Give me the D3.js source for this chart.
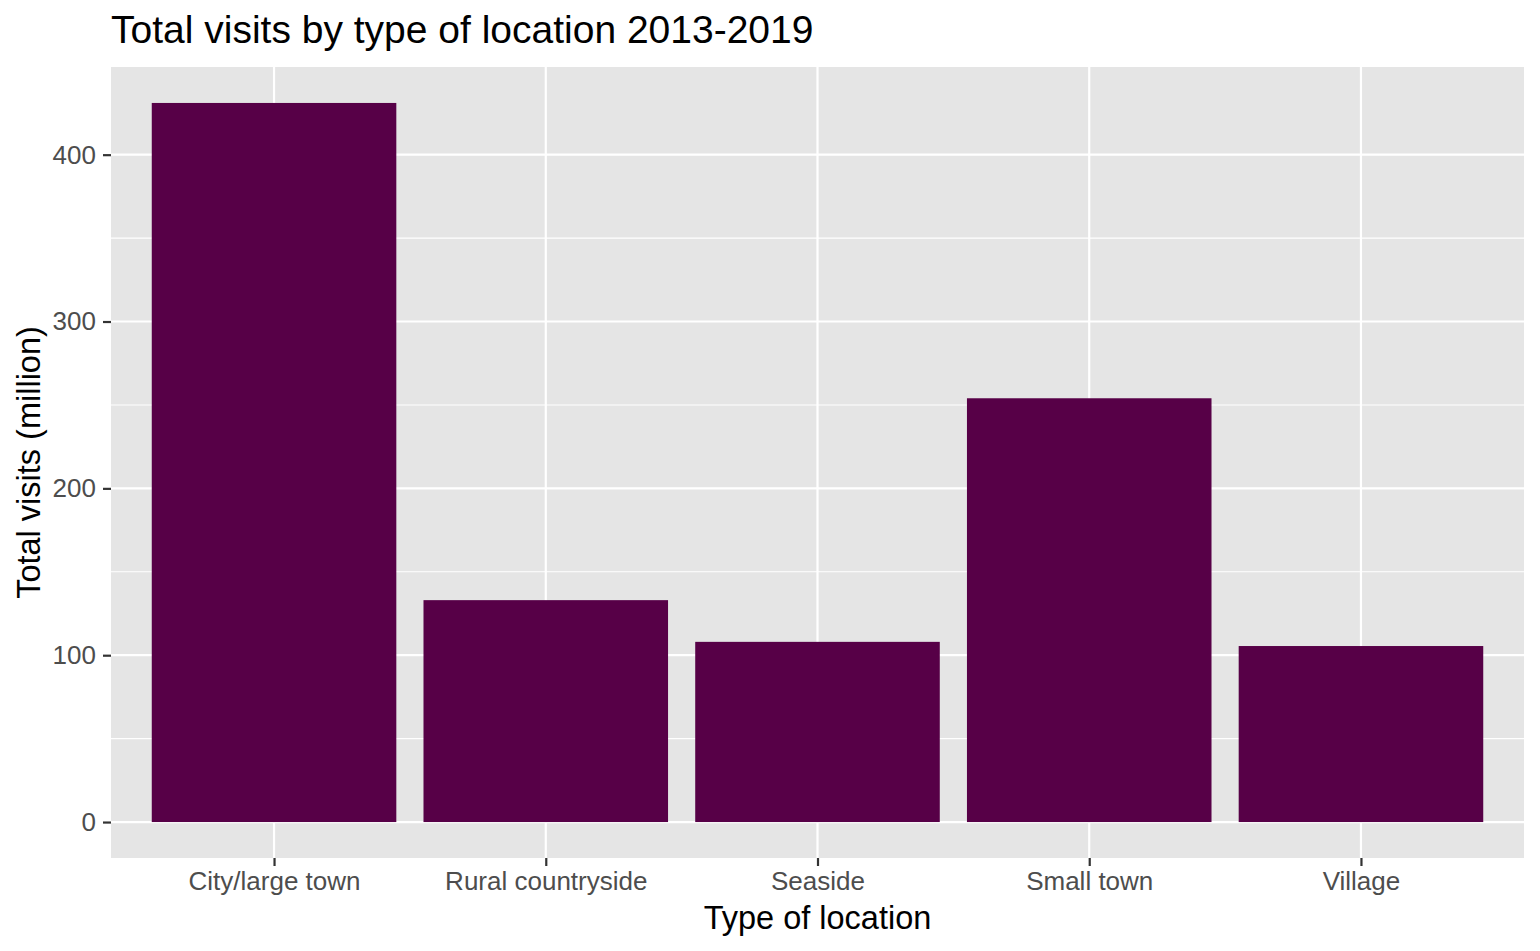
<!DOCTYPE html>
<html lang="en">
<head>
    <meta charset="UTF-8">
    <title>Total visits by type of location 2013-2019</title>
    <script src="https://cdn.jsdelivr.net/npm/d3@7/dist/d3.min.js"></script>
    <style>
        body { margin: 0; background: #fff; }
        text { font-family: "Liberation Sans", Arial, sans-serif; }
    </style>
</head>
<body>
<script>
    // data
    const categories = ['City/large town', 'Rural countryside', 'Seaside', 'Small town', 'Village'];
    const visits = [431, 133, 108, 254, 105.5];
    const yTicks = [0, 100, 200, 300, 400];
    const yMinor = [50, 150, 250, 350];

    const width = 1540;
    const height = 951;

    // panel box
    const panel = { left: 111, right: 1524, top: 67, bottom: 858 };

    const svg = d3.select('body')
        .append('svg')
        .attr('width', width)
        .attr('height', height);

    // x: discrete, ggplot style expansion 0.6 of a step each side
    const n = categories.length;
    const step = (panel.right - panel.left) / (n - 1 + 1.2);
    const xScale = d3.scalePoint()
        .domain(categories)
        .range([panel.left + 0.6 * step, panel.right - 0.6 * step]);
    const barWidth = step * 0.9;

    // y: 5% expansion
    const yMax = d3.max(visits);
    const yScale = d3.scaleLinear()
        .domain([-yMax * 0.05, yMax * 1.05])
        .range([panel.bottom, panel.top]);

    // panel background
    svg.append('rect')
        .attr('x', panel.left)
        .attr('y', panel.top)
        .attr('width', panel.right - panel.left)
        .attr('height', panel.bottom - panel.top)
        .attr('fill', '#e5e5e5');

    // minor grid
    svg.selectAll('.minor')
        .data(yMinor)
        .enter()
        .append('line')
        .attr('x1', panel.left)
        .attr('x2', panel.right)
        .attr('y1', d => yScale(d))
        .attr('y2', d => yScale(d))
        .attr('stroke', '#fff')
        .attr('stroke-width', 1.1);

    // major grid
    svg.selectAll('.hmajor')
        .data(yTicks)
        .enter()
        .append('line')
        .attr('x1', panel.left)
        .attr('x2', panel.right)
        .attr('y1', d => yScale(d))
        .attr('y2', d => yScale(d))
        .attr('stroke', '#fff')
        .attr('stroke-width', 2.2);

    svg.selectAll('.vmajor')
        .data(categories)
        .enter()
        .append('line')
        .attr('y1', panel.top)
        .attr('y2', panel.bottom)
        .attr('x1', d => xScale(d))
        .attr('x2', d => xScale(d))
        .attr('stroke', '#fff')
        .attr('stroke-width', 2.2);

    // bars
    svg.selectAll('.bar')
        .data(visits)
        .enter()
        .append('rect')
        .attr('class', 'bar')
        .attr('x', (d, i) => xScale(categories[i]) - barWidth / 2)
        .attr('y', d => yScale(d))
        .attr('width', barWidth)
        .attr('height', d => yScale(0) - yScale(d))
        .attr('fill', '#570047');

    // y axis
    const yAxis = d3.axisLeft(yScale)
        .tickValues(yTicks)
        .tickSize(8)
        .tickPadding(7);
    const gy = svg.append('g')
        .attr('transform', `translate(${panel.left}, 0)`)
        .call(yAxis);
    gy.select('.domain').remove();
    gy.selectAll('.tick line').attr('stroke', '#333').attr('stroke-width', 2.2);
    gy.selectAll('.tick text')
        .attr('fill', '#4d4d4d')
        .style('font-size', '26px')
        .style('font-family', '"Liberation Sans", Arial, sans-serif');

    // x axis
    const xAxis = d3.axisBottom(xScale)
        .tickSize(8)
        .tickPadding(6);
    const gx = svg.append('g')
        .attr('transform', `translate(0, ${panel.bottom})`)
        .call(xAxis);
    gx.select('.domain').remove();
    gx.selectAll('.tick line').attr('stroke', '#333').attr('stroke-width', 2.2);
    gx.selectAll('.tick text')
        .attr('fill', '#4d4d4d')
        .style('font-size', '26px')
        .style('font-family', '"Liberation Sans", Arial, sans-serif');

    // title
    svg.append('text')
        .attr('x', panel.left)
        .attr('y', 43)
        .attr('fill', '#000')
        .style('font-size', '39px')
        .text('Total visits by type of location 2013-2019');

    // axis titles
    svg.append('text')
        .attr('x', (panel.left + panel.right) / 2)
        .attr('y', 929)
        .attr('text-anchor', 'middle')
        .style('font-size', '32.5px')
        .text('Type of location');

    svg.append('text')
        .attr('transform', `translate(40, ${(panel.top + panel.bottom) / 2}) rotate(-90)`)
        .attr('text-anchor', 'middle')
        .style('font-size', '32.5px')
        .text('Total visits (million)');
</script>
</body>
</html>
